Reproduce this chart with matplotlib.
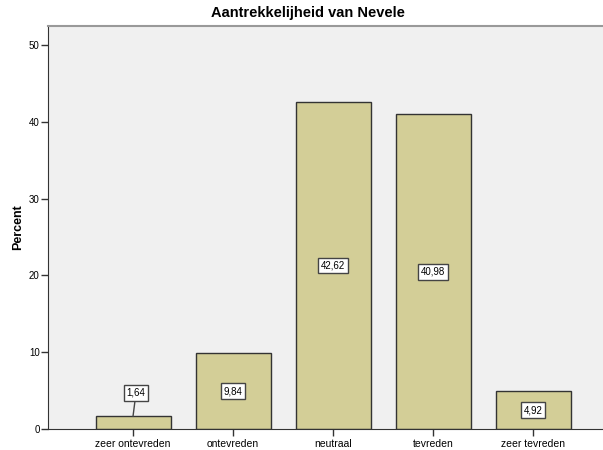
import matplotlib
matplotlib.use("Agg")
import matplotlib.pyplot as plt

plt.rcParams["font.family"] = ["Liberation Sans", "DejaVu Sans"]

categories = ["zeer ontevreden", "ontevreden", "neutraal", "tevreden", "zeer tevreden"]
percents = [1.64, 9.84, 42.62, 40.98, 4.92]
labels = ["1,64", "9,84", "42,62", "40,98", "4,92"]

fig = plt.figure(figsize=(6.03, 4.5), dpi=100)
ax = fig.add_axes([48 / 603, 21 / 450, 555 / 603, 403 / 450])
ax.set_facecolor("#F0F0F0")

x = list(range(len(categories)))
ax.bar(x, percents, width=0.75, color="#D3CE97", edgecolor="#333333", linewidth=1, zorder=2)

box = dict(boxstyle="square,pad=0.3", facecolor="white", edgecolor="#444444", linewidth=1)
for i, (v, lab) in enumerate(zip(percents, labels)):
    if v < 3:
        ax.annotate(lab, xy=(i, v), xytext=(i + 0.03, 4.7), ha="center", va="center",
                    fontsize=7, bbox=box, zorder=4,
                    arrowprops=dict(arrowstyle="-", color="#444444", lw=1, shrinkA=0, shrinkB=0))
    else:
        ax.text(i, v / 2, lab, ha="center", va="center", fontsize=7, bbox=box, zorder=4)

ax.set_xlim(-0.85, 4.7)
ax.set_ylim(0, 52.5)
ax.set_yticks([0, 10, 20, 30, 40, 50])
ax.set_xticks(x)
ax.set_xticklabels(categories, fontsize=7.5)
ax.tick_params(axis="y", labelsize=7, length=5, width=1, pad=1, colors="#333333")
ax.tick_params(axis="x", length=5, width=1, pad=2, colors="#333333")
ax.tick_params(labelcolor="black")
ax.spines["right"].set_visible(False)
ax.spines["top"].set_color("#999999")
ax.spines["top"].set_linewidth(1.5)
for s in ["left", "bottom"]:
    ax.spines[s].set_color("#333333")
ax.set_ylabel("Percent", fontsize=9, fontweight="bold")
ax.yaxis.set_label_coords(-24 / 555, 0.5)

fig.text(308 / 603, 1 - 13 / 450, "Aantrekkelijheid van Nevele", ha="center", va="center",
         fontsize=10.5, fontweight="bold")

fig.savefig("out.png", dpi=100)
